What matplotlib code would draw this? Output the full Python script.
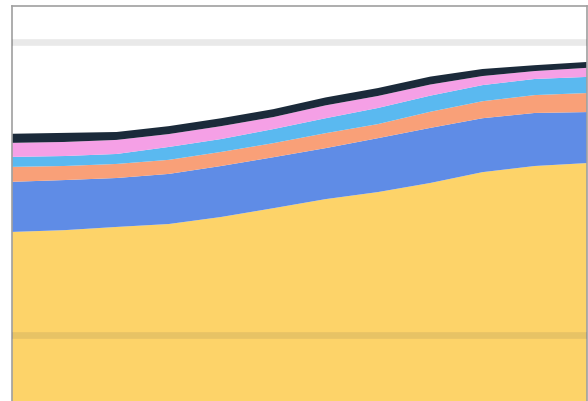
import matplotlib
matplotlib.use('Agg')
import matplotlib.pyplot as plt
import numpy

# data (stacked, bottom to top)
years = [2010, 2011, 2012, 2013, 2014, 2015, 2016, 2017, 2018, 2019, 2020, 2021]
yellow = [135.2, 135.8, 136.9, 137.9, 140.3, 143.3, 146.4, 148.8, 151.9, 155.6, 157.7, 158.7]
blue = [17.1, 17.1, 16.7, 17.1, 17.4, 17.4, 17.4, 18.4, 18.8, 18.4, 18.1, 17.4]
orange = [5.1, 4.8, 4.8, 4.8, 4.8, 4.8, 5.1, 4.8, 5.5, 5.8, 6.1, 6.5]
light_blue = [3.4, 3.4, 3.4, 4.4, 4.4, 4.8, 5.1, 5.5, 5.5, 5.5, 5.5, 5.5]
pink = [4.8, 4.8, 4.8, 4.4, 4.4, 4.1, 4.4, 4.1, 3.8, 3.1, 2.7, 3.1]
dark = [3.1, 3.1, 2.7, 2.7, 2.7, 2.7, 2.7, 2.7, 2.7, 2.4, 2.0, 2.0]
grid_values = [100, 200]

colors = ['#fdd369', '#5f8ce6', '#f9a078', '#5ab9f0', '#f5a0e6', '#1b2a3a']

fig = plt.figure(figsize=(5.88, 4.01), dpi=100)
ax = fig.add_axes([12/588.0, 0.0, 575/588.0, 395/401.0])

ax.stackplot(years, yellow, blue, orange, light_blue, pink, dark,
             colors=colors, linewidth=0)

# grid drawn over the areas, faint
for g in grid_values:
    ax.axhline(g, color='#505050', alpha=0.12, linewidth=4.8, zorder=5)

ax.set_xlim(years[0], years[-1])
ax.set_ylim(77.5, 212.3)
ax.set_xticks([])
ax.set_yticks([])

for side in ['left', 'top', 'right']:
    ax.spines[side].set_color('#a0a0a0')
    ax.spines[side].set_linewidth(1.2)
ax.spines['bottom'].set_visible(False)

plt.savefig('out.png', dpi=100)
